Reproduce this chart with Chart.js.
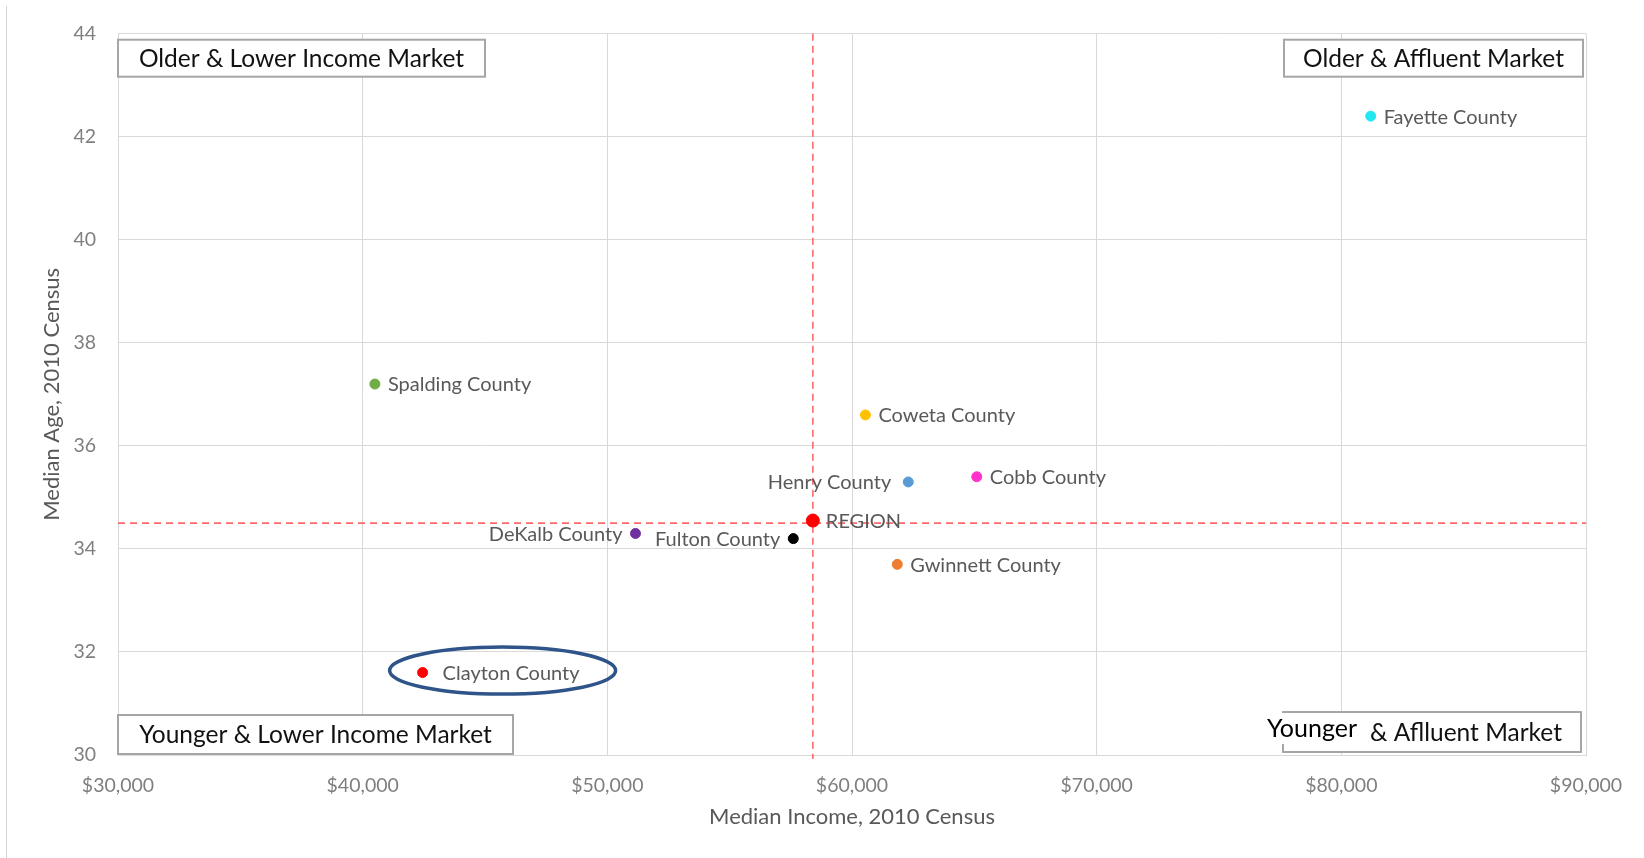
<!DOCTYPE html>
<html lang="en">
<head>
  <meta charset="UTF-8" />
  <title>Median Age vs Median Income</title>
  <script src="https://cdn.jsdelivr.net/npm/chart.js"></script>
  <style>
    html, body { margin: 0; padding: 0; background: #fff; }
    .wrap { position: relative; width: 1644px; height: 858px; }
    .frame { position: absolute; left: 6px; top: 6px; bottom: 0; width: 1px; background: #d4d4d4; }
  </style>
</head>
<body>
  <div class="wrap">
    <div class="frame"></div>
    <canvas id="scatter" width="1644" height="858"></canvas>
  </div>

  <script>
    // counties / region, median income and median age (2010 Census)
    const names = ['Fayette County', 'Spalding County', 'Coweta County', 'Henry County', 'Cobb County',
                   'REGION', 'DeKalb County', 'Fulton County', 'Gwinnett County', 'Clayton County'];
    const incomes = [81200, 40500, 60550, 62300, 65100, 58400, 51150, 57600, 61850, 42450];
    const ages    = [42.4, 37.2, 36.6, 35.3, 35.4, 34.55, 34.3, 34.2, 33.7, 31.6];
    const colors  = ['#22e8f2', '#70ad47', '#ffc000', '#5b9bd5', '#ff33cc',
                     '#ff0000', '#7030a0', '#000000', '#ed7d31', '#ff0000'];

    const xTicks = [30000, 40000, 50000, 60000, 70000, 80000, 90000];
    const yTicks = [30, 32, 34, 36, 38, 40, 42, 44];

    const quadrants = ['Older & Lower Income Market', 'Older & Affluent Market',
                       'Younger & Lower Income Market', 'Younger & Aflluent Market'];

    const leftLabels = ['Henry County', 'DeKalb County', 'Fulton County'];
    const FONT = 'Lato, "Noto Sans", sans-serif';

    // data labels beside each point
    const pointLabels = {
      id: 'pointLabels',
      afterDatasetsDraw(chart) {
        const ctx = chart.ctx;
        const meta = chart.getDatasetMeta(0);
        ctx.save();
        ctx.font = '20px ' + FONT;
        ctx.fillStyle = '#595959';
        ctx.textBaseline = 'middle';
        meta.data.forEach((pt, i) => {
          const left = leftLabels.includes(names[i]);
          ctx.textAlign = left ? 'right' : 'left';
          let gap = 13;
          if (names[i] === 'Clayton County') gap = 20;
          if (names[i] === 'Henry County') gap = 17;
          ctx.fillText(names[i], pt.x + (left ? -gap : gap), pt.y + 1);
        });
        ctx.restore();
      }
    };

    // region crosshair, quadrant boxes, highlight ellipse
    const overlays = {
      id: 'overlays',
      beforeDatasetsDraw(chart) {
        const { ctx, chartArea: a, scales: { x, y } } = chart;
        const ri = names.indexOf('REGION');
        const rx = x.getPixelForValue(incomes[ri]);
        const ry = y.getPixelForValue(34.5);
        ctx.save();
        ctx.strokeStyle = 'rgba(255, 80, 80, 0.85)';
        ctx.lineWidth = 1.6;
        ctx.setLineDash([7, 5]);
        ctx.beginPath();
        ctx.moveTo(a.left, ry); ctx.lineTo(a.right, ry);
        ctx.moveTo(rx, a.top); ctx.lineTo(rx, a.bottom + 4);
        ctx.stroke();
        ctx.restore();
      },
      afterDatasetsDraw(chart) {
        const { ctx, chartArea: a, scales: { x, y } } = chart;
        ctx.save();
        // quadrant label boxes
        const boxes = [
          { text: quadrants[0], l: a.left, t: a.top + 6, w: 367, h: 37 },
          { text: quadrants[1], l: a.right - 302, t: a.top + 6, w: 299, h: 37 },
          { text: quadrants[2], l: a.left, t: a.bottom - 40, w: 395, h: 39 },
          { text: quadrants[3], l: a.right - 303, t: a.bottom - 43, w: 298, h: 40 }
        ];
        ctx.lineWidth = 2;
        boxes.forEach((b, i) => {
          ctx.fillStyle = '#fff';
          ctx.fillRect(b.l, b.t, b.w, b.h);
          ctx.strokeStyle = '#a6a6a6';
          ctx.strokeRect(b.l, b.t, b.w, b.h);
          ctx.fillStyle = '#111';
          ctx.font = '24.5px ' + FONT;
          ctx.textBaseline = 'middle';
          if (i === 3) {
            // pasted "Younger" sits on its own white patch, offset from the box
            const rest = b.text.replace('Younger ', '');
            ctx.textAlign = 'right';
            ctx.fillText(rest, b.l + b.w - 19, b.t + b.h / 2 + 1);
            ctx.fillStyle = '#fff';
            ctx.fillRect(b.l - 18, b.t + 1, 101, 31);
            ctx.fillStyle = '#000';
            ctx.font = '25px ' + FONT;
            ctx.textAlign = 'left';
            ctx.fillText('Younger', b.l - 16, b.t + 17);
          } else {
            ctx.textAlign = 'center';
            ctx.fillText(b.text, b.l + b.w / 2, b.t + b.h / 2 + 1);
          }
        });
        // ellipse round Clayton County
        const ci = names.indexOf('Clayton County');
        const cx = x.getPixelForValue(incomes[ci]) + 80;
        const cy = y.getPixelForValue(ages[ci]) - 2;
        ctx.strokeStyle = '#2f5489';
        ctx.lineWidth = 3.5;
        ctx.beginPath();
        ctx.ellipse(cx, cy, 113, 23.5, 0, 0, Math.PI * 2);
        ctx.stroke();
        ctx.restore();
      }
    };

    const config = {
      type: 'scatter',
      data: {
        datasets: [{
          label: 'Counties',
          data: incomes.map((v, i) => ({ x: v, y: ages[i] })),
          backgroundColor: colors,
          borderColor: colors,
          pointRadius: names.map(n => n === 'REGION' ? 6.5 : 5),
          pointHoverRadius: 6
        }]
      },
      options: {
        responsive: false,
        animation: false,
        events: [],
        layout: { padding: { left: 30, right: 58, top: 31, bottom: 20 } },
        plugins: { legend: { display: false }, tooltip: { enabled: false } },
        scales: {
          x: {
            type: 'linear',
            min: 30000, max: 90000,
            afterBuildTicks: s => { s.ticks = xTicks.map(v => ({ value: v })); },
            afterFit: s => { s.height = 83; },
            grid: { color: '#d9d9d9', drawTicks: false },
            border: { color: '#d9d9d9' },
            ticks: {
              padding: 19,
              color: '#7f7f7f',
              font: { family: FONT, size: 19.5 },
              callback: v => '$' + v.toLocaleString('en-US')
            },
            title: {
              display: true,
              text: 'Median Income, 2010 Census',
              color: '#595959',
              font: { family: FONT, size: 22 },
              padding: { top: 0, bottom: 8 }
            }
          },
          y: {
            type: 'linear',
            min: 30, max: 44,
            afterBuildTicks: s => { s.ticks = yTicks.map(v => ({ value: v })); },
            afterFit: s => { s.width = 88; },
            grid: { color: '#d9d9d9', drawTicks: false },
            border: { color: '#d9d9d9' },
            ticks: {
              padding: 22,
              color: '#7f7f7f',
              font: { family: FONT, size: 19.5 }
            },
            title: {
              display: true,
              text: 'Median Age, 2010 Census',
              color: '#595959',
              font: { family: FONT, size: 22 },
              padding: { top: 9, bottom: 0 }
            }
          }
        }
      },
      plugins: [overlays, pointLabels]
    };

    const scatterChart = new Chart(document.getElementById('scatter'), config);
  </script>
</body>
</html>
